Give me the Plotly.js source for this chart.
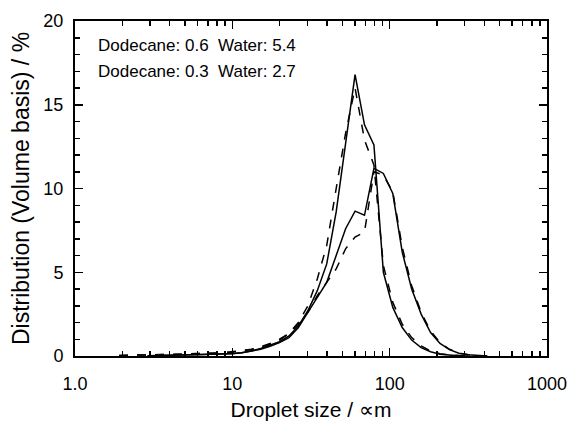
<!DOCTYPE html>
<html>
<head>
<meta charset="utf-8">
<script src="https://cdn.plot.ly/plotly-3.0.1.min.js"></script>
<style>html,body{margin:0;padding:0;background:#fff;}#chart{width:570px;height:428px;}</style>
</head>
<body>
<div id="chart"></div>
<script>
// Droplet size bins (µm)
var sizes = [1.905, 2.188, 2.512, 2.884, 3.311, 3.802, 4.365, 5.012, 5.754, 6.607, 7.586, 8.710,
  10.00, 11.48, 13.18, 15.14, 17.38, 19.95, 22.91, 26.30, 30.20, 34.67, 39.81, 45.71, 52.48,
  60.26, 69.18, 79.43, 91.20, 104.7, 120.2, 138.0, 158.5, 182.0, 208.9, 239.9, 275.4, 316.2, 363.1, 416.9];

// Dodecane 0.6 / Water 5.4 (tall peak), solid and dashed
var tallSolid = [null, null, null, 0.02, 0.04, 0.05, 0.06, 0.07, 0.08, 0.09, 0.10, 0.12,
  0.15, 0.20, 0.30, 0.45, 0.65, 0.85, 1.2, 1.8, 2.7, 3.9, 5.5, 8.6, 12.7,
  16.8, 13.8, 12.6, 5.0, 2.9, 1.7, 0.95, 0.5, 0.25, 0.1, 0.04, 0.01, 0.0, null, null];
var tallDashed = [0.03, 0.05, 0.06, 0.07, 0.08, 0.09, 0.10, 0.11, 0.13, 0.15, 0.17, 0.20,
  0.25, 0.30, 0.38, 0.50, 0.70, 0.95, 1.35, 2.0, 3.0, 4.6, 6.6, 10.0, 13.3,
  16.0, 12.9, 11.4, 5.4, 3.2, 1.9, 1.1, 0.6, 0.3, 0.14, 0.06, 0.02, 0.0, null, null];

// Dodecane 0.3 / Water 2.7 (lower, broader peak), solid and dashed
var lowSolid = [null, null, null, null, 0.03, 0.04, 0.05, 0.06, 0.07, 0.08, 0.09, 0.11,
  0.14, 0.20, 0.28, 0.40, 0.58, 0.80, 1.1, 1.7, 2.6, 3.5, 4.4, 6.0, 7.6,
  8.65, 8.4, 11.2, 10.9, 9.7, 6.2, 4.0, 2.5, 1.4, 0.75, 0.38, 0.17, 0.07, 0.02, 0.0];
var lowDashed = [0.03, 0.05, 0.06, 0.07, 0.08, 0.09, 0.10, 0.11, 0.12, 0.14, 0.16, 0.19,
  0.23, 0.30, 0.40, 0.55, 0.75, 1.0, 1.35, 1.9, 2.6, 3.6, 4.4, 5.2, 6.4,
  7.1, 7.4, 11.0, 10.8, 9.8, 6.5, 4.2, 2.6, 1.5, 0.8, 0.4, 0.18, 0.07, 0.02, 0.0];

var xTickVals = [1, 10, 100, 1000];
var xTickText = ['1.0', '10', '100', '1000'];
var xMinorVals = [2,3,4,5,6,7,8,9,20,30,40,50,60,70,80,90,200,300,400,500,600,700,800,900];
var annotationLines = ['Dodecane: 0.6&nbsp;&nbsp;Water: 5.4', 'Dodecane: 0.3&nbsp;&nbsp;Water: 2.7'];

function tr(y, dash) {
  return {x: sizes, y: y, type: 'scatter', mode: 'lines', connectgaps: false,
    line: {color: '#000', width: 1.5, dash: dash}, showlegend: false, hoverinfo: 'skip'};
}
var data = [tr(tallSolid, 'solid'), tr(tallDashed, 'dash'), tr(lowSolid, 'solid'), tr(lowDashed, 'dash')];

var fam = 'Liberation Sans, Arial, sans-serif';
var layout = {
  width: 570, height: 428,
  margin: {l: 75, r: 23, t: 21, b: 72},
  paper_bgcolor: '#fff', plot_bgcolor: '#fff',
  showlegend: false,
  font: {family: fam, color: '#000', size: 16},
  xaxis: {
    type: 'log', range: [0, 3],
    tickmode: 'array', tickvals: xTickVals, ticktext: xTickText,
    ticks: 'inside', ticklen: 8, tickwidth: 1.5, tickcolor: '#000',
    minor: {tickmode: 'array', tickvals: xMinorVals, ticks: 'inside', ticklen: 5, tickwidth: 1.5, tickcolor: '#000'},
    showline: true, linecolor: '#000', linewidth: 2, mirror: 'ticks',
    showgrid: false, zeroline: false,
    tickfont: {family: fam, size: 18, color: '#000'},
    ticklabelstandoff: 10,
    title: {text: 'Droplet size / ∝m', font: {family: fam, size: 21, color: '#000'}, standoff: 10}
  },
  yaxis: {
    range: [0, 20], tickmode: 'linear', tick0: 0, dtick: 5,
    ticks: 'inside', ticklen: 8, tickwidth: 1.5, tickcolor: '#000',
    minor: {dtick: 1, ticks: 'inside', ticklen: 5, tickwidth: 1.5, tickcolor: '#000'},
    showline: true, linecolor: '#000', linewidth: 2, mirror: 'ticks',
    showgrid: false, zeroline: false,
    tickfont: {family: fam, size: 18, color: '#000'},
    ticklabelstandoff: 6,
    title: {text: 'Distribution (Volume basis) / %', font: {family: fam, size: 23, color: '#000'}, standoff: 7}
  },
  annotations: [
    {text: annotationLines[0], xref: 'paper', yref: 'paper', x: 0.045, y: 0.928, xanchor: 'left', yanchor: 'middle', showarrow: false, font: {family: fam, size: 17, color: '#000'}},
    {text: annotationLines[1], xref: 'paper', yref: 'paper', x: 0.045, y: 0.848, xanchor: 'left', yanchor: 'middle', showarrow: false, font: {family: fam, size: 17, color: '#000'}}
  ]
};
Plotly.newPlot('chart', data, layout, {staticPlot: true, displayModeBar: false});
</script>
</body>
</html>
